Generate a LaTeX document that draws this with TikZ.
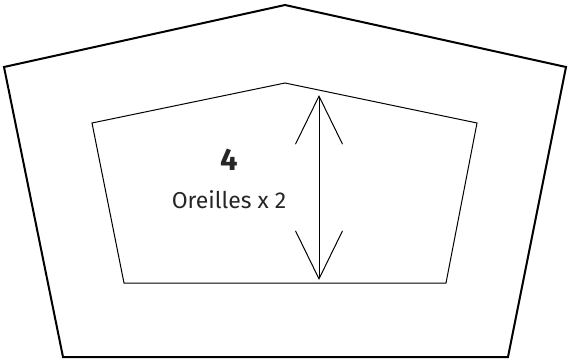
\documentclass[tikz,border=0pt]{standalone}
\usepackage{fontspec}
\setmainfont{Fira Sans}
\usepackage{tikz}
\usetikzlibrary{arrows.meta,positioning}

\begin{document}
\begin{tikzpicture}[
    x=1pt, y=-1pt,
    outer/.style={draw, line width=2pt, line join=miter},
    inner/.style={draw, line width=1pt, line join=miter},
    label/.style={inner sep=0pt, text=black!85},
    barb/.style={{Straight Barb[length=48pt,width=47pt,line width=1pt]}-{Straight Barb[length=48pt,width=47pt,line width=1pt]}, line width=1pt},
]
\useasboundingbox (0,0) rectangle (568,361);
% outer pentagon
\coordinate (o1) at (285,5);
\coordinate (o2) at (566,67);
\coordinate (o3) at (508,357);
\coordinate (o4) at (63,357);
\coordinate (o5) at (4,67);
\draw [outer] (o1) -- (o2) -- (o3) -- (o4) -- (o5) -- cycle;
% inner pentagon
\coordinate (i1) at (285,83);
\coordinate (i2) at (477,123);
\coordinate (i3) at (446,283);
\coordinate (i4) at (124,283);
\coordinate (i5) at (92,123);
\draw [inner] (i1) -- (i2) -- (i3) -- (i4) -- (i5) -- cycle;
% height
\coordinate (top) at (319,95);
\coordinate (bot) at (319,280);
\draw [barb] (top) -- (bot);
\node [label, font=\bfseries\fontsize{31}{34}\selectfont] (num) at (229,160) {4};
\node [label, font=\fontsize{23}{26}\selectfont, below=19pt of num] (ears) {Oreilles x 2};
\end{tikzpicture}
\end{document}
